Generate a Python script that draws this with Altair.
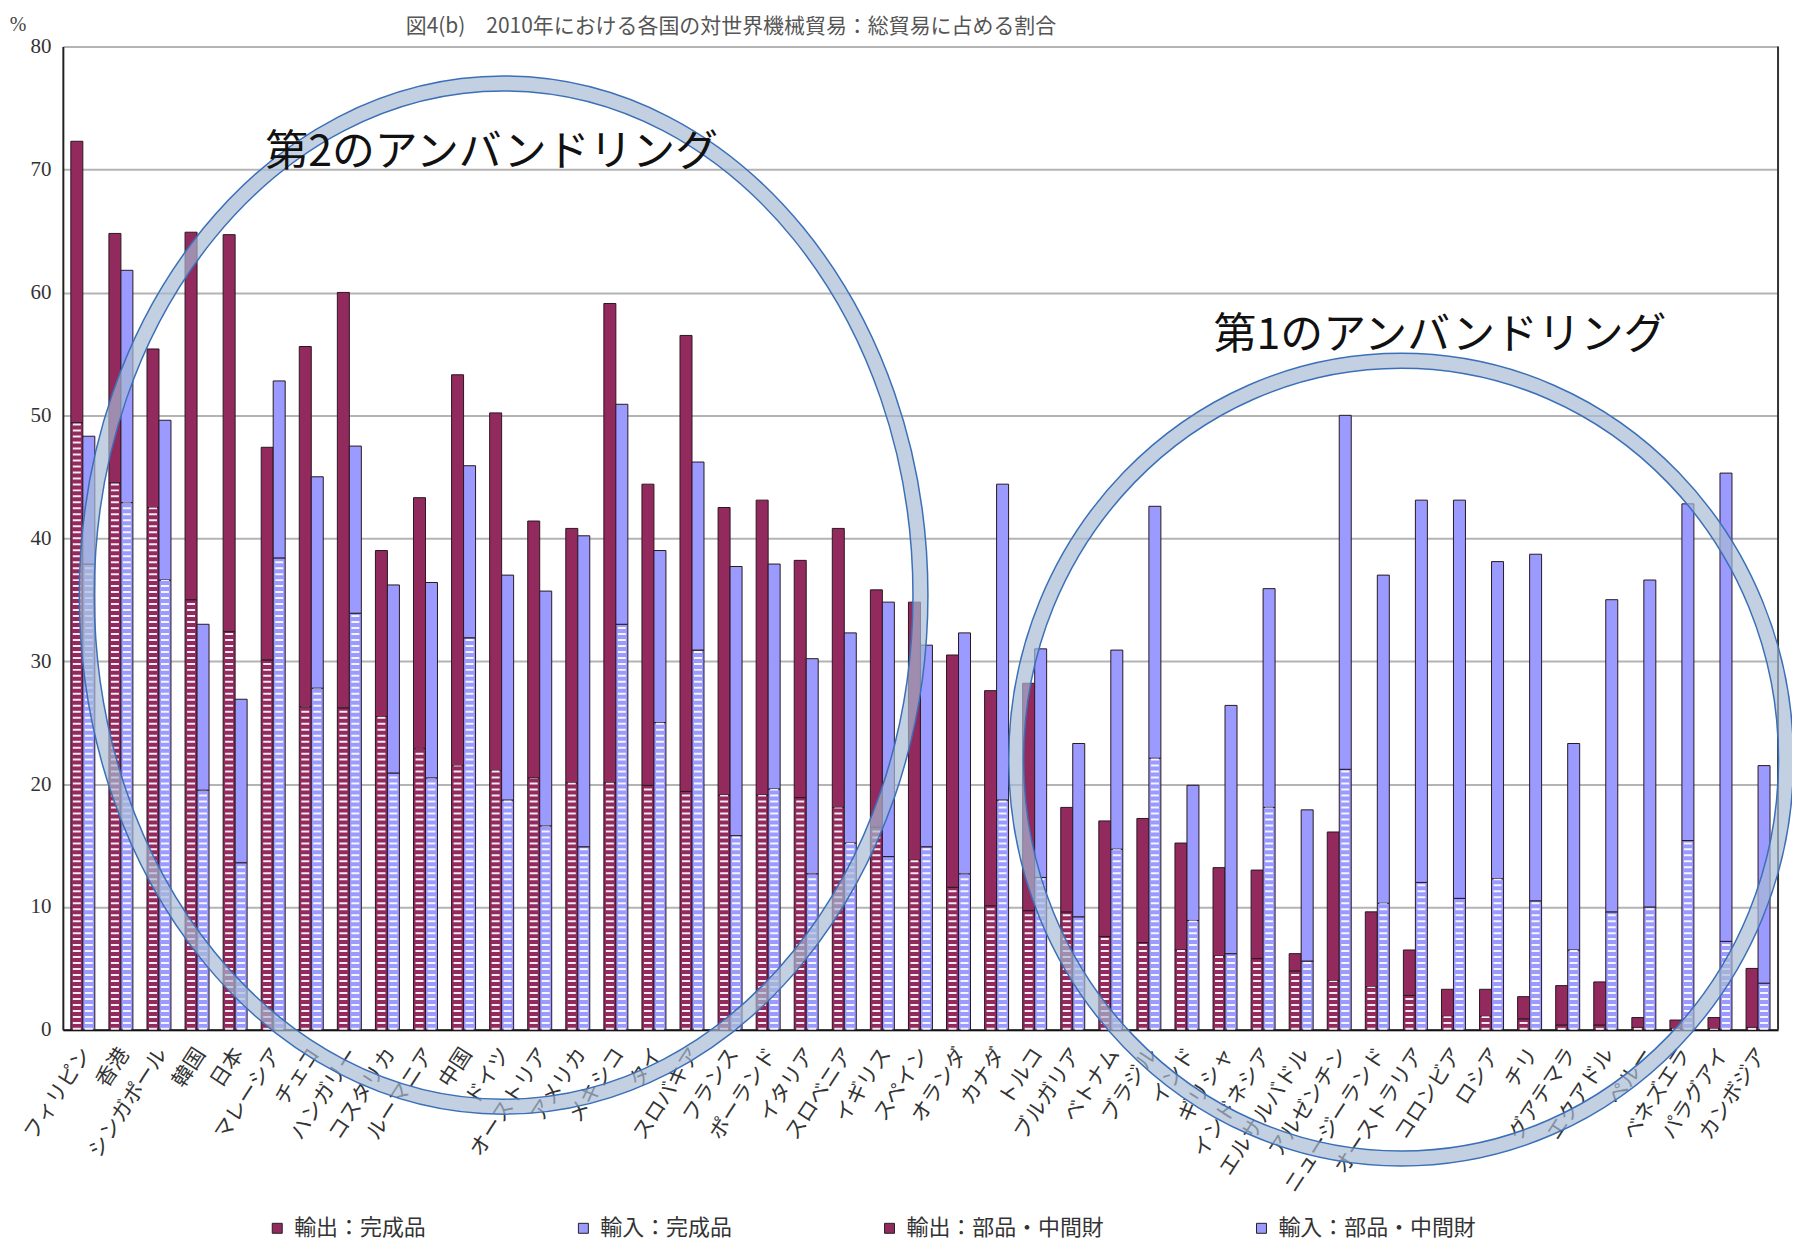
import altair as alt
import pandas as pd

countries = ["フィリピン", "香港", "シンガポール", "韓国", "日本", "マレーシア", "チェコ", "ハンガリー",
             "コスタリカ", "ルーマニア", "中国", "ドイツ", "オーストリア", "アメリカ", "メキシコ", "タイ",
             "スロバキア", "フランス", "ポーランド", "イタリア", "スロベニア", "イギリス", "スペイン", "オランダ",
             "カナダ", "トルコ", "ブルガリア", "ベトナム", "ブラジル", "インド", "ギリシャ", "インドネシア",
             "エルサルバドル", "アルゼンチン", "ニュージーランド", "オーストラリア", "コロンビア", "ロシア", "チリ",
             "グアテマラ", "エクアドル", "ペルー", "ベネズエラ", "パラグアイ", "カンボジア"]

export_total = [72.3, 64.8, 55.4, 64.9, 64.7, 47.4, 55.6, 60.0, 39.0, 43.3, 53.3, 50.2, 41.4, 40.8, 59.1,
                44.4, 56.5, 42.5, 43.1, 38.2, 40.8, 35.8, 34.8, 30.5, 27.6, 28.2, 18.1, 17.0, 17.2, 15.2,
                13.2, 13.0, 6.2, 16.1, 9.6, 6.5, 3.3, 3.3, 2.7, 3.6, 3.9, 1.0, 0.8, 1.0, 5.0]
export_parts = [49.4, 44.5, 42.5, 35.0, 32.4, 30.1, 26.3, 26.2, 25.5, 22.9, 21.5, 21.1, 20.5, 20.1, 20.1,
                19.9, 19.4, 19.1, 19.1, 18.9, 18.1, 16.5, 13.8, 11.6, 10.1, 9.7, 9.6, 7.6, 7.1, 6.5,
                6.0, 5.8, 4.8, 4.0, 3.5, 2.8, 1.1, 1.1, 0.9, 0.4, 0.4, 0.2, 0.1, 0.1, 0.2]
import_total = [48.3, 61.8, 49.6, 33.0, 26.9, 52.8, 45.0, 47.5, 36.2, 36.4, 45.9, 37.0, 35.7, 40.2, 50.9,
                39.0, 46.2, 37.7, 37.9, 30.2, 32.3, 34.8, 31.3, 32.3, 44.4, 31.0, 23.3, 30.9, 42.6, 19.9,
                26.4, 35.9, 17.9, 50.0, 37.0, 43.1, 43.1, 38.1, 38.7, 23.3, 35.0, 36.6, 42.8, 45.3, 21.5]
import_parts = [37.9, 42.9, 36.6, 19.5, 13.6, 38.4, 27.8, 33.9, 20.9, 20.5, 31.9, 18.7, 16.6, 14.9, 33.0,
                25.0, 30.9, 15.8, 19.6, 12.7, 15.2, 14.1, 14.9, 12.7, 18.7, 12.4, 9.2, 14.7, 22.1, 8.9,
                6.2, 18.1, 5.6, 21.2, 10.3, 12.0, 10.7, 12.3, 10.5, 6.5, 9.6, 10.0, 15.4, 7.2, 3.8]

flows = ["輸出", "輸入"]
series_order = ["輸出：完成品", "輸入：完成品", "輸出：部品・中間財", "輸入：部品・中間財"]
series_colors = ["#922a5e", "#9a9aff", "#922a5e", "#9a9aff"]

title_text = "図4(b)　2010年における各国の対世界機械貿易：総貿易に占める割合"
note_2 = "第2のアンバンドリング"
note_1 = "第1のアンバンドリング"

W, H = 1720, 986
JP = "Noto Sans CJK JP"

rows = []
for i, c in enumerate(countries):
    for flow, tot, parts in ((flows[0], export_total[i], export_parts[i]),
                             (flows[1], import_total[i], import_parts[i])):
        rows.append(dict(country=c, flow=flow, part="parts", lo=0.0, hi=parts, series=f"{flow}：部品・中間財"))
        rows.append(dict(country=c, flow=flow, part="final", lo=parts, hi=tot, series=f"{flow}：完成品"))
df = pd.DataFrame(rows)
df_parts = df[df["part"] == "parts"]

x_axis = alt.Axis(title=None, labelAngle=-57, labelAlign="right", labelBaseline="middle",
                  labelFont=JP, labelFontSize=21, labelColor="#333", labelPadding=20, labelOffset=4,
                  ticks=False, domainColor="#111", domainWidth=2, grid=False, labelLimit=300)
x_enc = alt.X("country:N", sort=countries, scale=alt.Scale(paddingInner=0.37, paddingOuter=0.21), axis=x_axis)
xo_enc = alt.XOffset("flow:N", sort=flows, scale=alt.Scale(paddingInner=0, paddingOuter=0))

y_axis = alt.Axis(title=None, values=list(range(0, 81, 10)), labelFont="Liberation Serif", labelFontSize=21,
                  labelColor="#333", labelPadding=12, ticks=False, domainColor="#222", domainWidth=2,
                  gridColor="#b4b4b4", gridWidth=2)
y_scale = alt.Scale(domain=[0, 80], nice=False)

bars = alt.Chart(df).mark_bar(stroke="#2a1820", strokeWidth=1).encode(
    x=x_enc, xOffset=xo_enc,
    y=alt.Y("lo:Q", scale=y_scale, axis=y_axis),
    y2="hi:Q",
    color=alt.Color("series:N", scale=alt.Scale(domain=series_order, range=series_colors),
                    legend=alt.Legend(title=None, orient="none", legendX=204, legendY=1174,
                                      direction="horizontal", columns=4, columnPadding=146,
                                      labelFont=JP, labelFontSize=22, labelColor="#333",
                                      symbolType="square", symbolSize=100, symbolStrokeColor="#222",
                                      symbolStrokeWidth=1, labelOffset=6, labelLimit=400)),
)

hatch = alt.Chart(df_parts).mark_rule(color="white", strokeWidth=8, strokeDash=[2, 4], strokeCap="butt",
                                      opacity=0.9).encode(
    x=x_enc, xOffset=xo_enc,
    y=alt.Y("lo:Q", scale=y_scale, axis=y_axis),
    y2="hi:Q",
)

one = pd.DataFrame({"k": [0]})

right_frame = alt.Chart(one).mark_rule(color="#333", strokeWidth=2).encode(
    x=alt.value(W), y=alt.value(0), y2=alt.value(H))


def ring(cx, cy, rx, ry, width, color, opacity):
    s = 100.0
    a, b = rx / s, ry / s
    path = f"M {-a:.4f} 0 A {a:.4f} {b:.4f} 0 1 0 {a:.4f} 0 A {a:.4f} {b:.4f} 0 1 0 {-a:.4f} 0 Z"
    return alt.Chart(one).mark_point(shape=path, size=(2 * s) ** 2, filled=False, stroke=color,
                                     strokeWidth=width, opacity=opacity).encode(
        x=alt.value(cx), y=alt.value(cy))


def ellipse_ring(cx, cy, rx, ry):
    return [
        ring(cx, cy, rx, ry, 15, "#a8bbd4", 0.68),
        ring(cx, cy, rx + 7.5, ry + 7.5, 1.5, "#3b70b8", 1.0),
        ring(cx, cy, rx - 7.5, ry - 7.5, 1.5, "#3b70b8", 1.0),
    ]


rings = ellipse_ring(442, 550, 418, 513) + ellipse_ring(1342, 715, 386, 400)


def label(text, px, py, size, color, font=JP, align="left"):
    return alt.Chart(pd.DataFrame({"t": [text]})).mark_text(
        font=font, fontSize=size, color=color, align=align, baseline="middle").encode(
        text="t:N", x=alt.value(px), y=alt.value(py))


notes = [label(note_2, 203, 107, 43, "#111"), label(note_1, 1154, 290, 43, "#111")]
title = label(title_text, 670, -20, 21, "#555", align="center")
pct = label("%", -45, -22, 20, "#444", font="Liberation Serif", align="center")

chart = alt.layer(bars, hatch, right_frame, *rings, *notes, title, pct).properties(
    width=W, height=H,
    autosize=alt.AutoSizeParams(type="none"),
    padding={"left": 55, "top": 37, "right": 14, "bottom": 210},
).configure_view(stroke="transparent")

chart.save("out.html", embed_options={"renderer": "svg", "actions": False})
